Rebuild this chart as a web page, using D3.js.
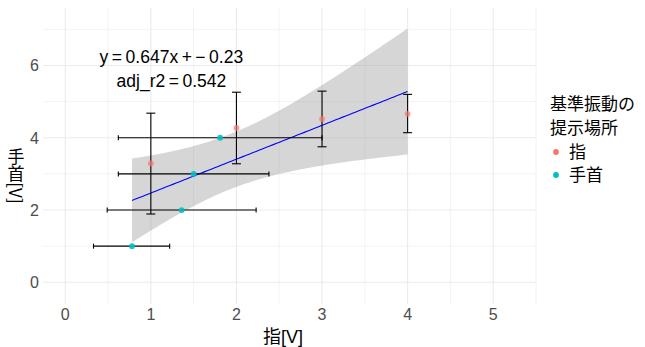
<!DOCTYPE html>
<html lang="ja">
  <head>
    <meta charset="UTF-8" />
    <title>指と手首の基準振動</title>
    <style>
      body {
        margin: 0;
        background: #fff;
      }
      svg {
        display: block;
        font-family: "Liberation Sans", "Noto Sans CJK JP", sans-serif;
      }
      .grid line {
        stroke: #ebebeb;
      }
      .tick-label {
        fill: #4d4d4d;
        font-size: 16px;
      }
      .cjk {
        font-family: "Noto Sans CJK JP", sans-serif;
      }
    </style>
  </head>
  <body>
    <svg id="chart"></svg>

    <script src="https://d3js.org/d3.v7.min.js"></script>
    <script>
      const width = 645;
      const height = 347;

      // 指 (finger) points: x fixed, y with vertical error
      const fingerX = [1, 2, 3, 4];
      const fingerY = [3.29, 4.27, 4.52, 4.66];
      const fingerYLow = [1.89, 3.28, 3.75, 4.14];
      const fingerYHigh = [4.68, 5.26, 5.29, 5.2];

      // 手首 (wrist) points: y fixed, x with horizontal error
      const wristX = [0.78, 1.36, 1.5, 1.81];
      const wristY = [1, 2, 3, 4];
      const wristXLow = [0.33, 0.49, 0.62, 0.62];
      const wristXHigh = [1.22, 2.23, 2.38, 3.0];

      const groupNames = ["指", "手首"];
      const groupColors = ["#F8766D", "#00BFC4"];

      const xTicks = [0, 1, 2, 3, 4, 5];
      const yTicks = [0, 2, 4, 6];
      const xMinor = [0.5, 1.5, 2.5, 3.5, 4.5, 5.5];
      const yMinor = [1, 3, 5, 7];

      const labelLines = ["y\u2009=\u20090.647x\u2009+\u2009\u2212\u20090.23", "adj_r2\u2009=\u20090.542"];
      const tQuantile = 2.4469; // t(0.975, df = 6)

      const panel = { left: 43, right: 536, top: 8, bottom: 304 };

      const svg = d3
        .select("#chart")
        .attr("width", width)
        .attr("height", height)
        .attr("viewBox", `0 0 ${width} ${height}`);

      const x = d3.scaleLinear().domain([-0.26, 5.5]).range([panel.left, panel.right]);
      const y = d3.scaleLinear().domain([-0.6, 7.59]).range([panel.bottom, panel.top]);

      // grid
      const grid = svg.append("g").attr("class", "grid");
      grid
        .selectAll(".vmin")
        .data(xMinor)
        .join("line")
        .attr("x1", (d) => x(d))
        .attr("x2", (d) => x(d))
        .attr("y1", panel.top)
        .attr("y2", panel.bottom)
        .attr("stroke-width", 0.6);
      grid
        .selectAll(".hmin")
        .data(yMinor)
        .join("line")
        .attr("class", "hmin")
        .attr("x1", panel.left)
        .attr("x2", panel.right)
        .attr("y1", (d) => y(d))
        .attr("y2", (d) => y(d))
        .attr("stroke-width", 0.6);
      grid
        .selectAll(".vmaj")
        .data(xTicks)
        .join("line")
        .attr("class", "vmaj")
        .attr("x1", (d) => x(d))
        .attr("x2", (d) => x(d))
        .attr("y1", panel.top)
        .attr("y2", panel.bottom)
        .attr("stroke-width", 1.1);
      grid
        .selectAll(".hmaj")
        .data(yTicks)
        .join("line")
        .attr("class", "hmaj")
        .attr("x1", panel.left)
        .attr("x2", panel.right)
        .attr("y1", (d) => y(d))
        .attr("y2", (d) => y(d))
        .attr("stroke-width", 1.1);

      // all points for the fit
      const points = fingerX
        .map((v, i) => ({ x: v, y: fingerY[i], g: 0 }))
        .concat(wristX.map((v, i) => ({ x: v, y: wristY[i], g: 1 })));

      // ordinary least squares + 95% confidence band
      const n = points.length;
      const mx = d3.mean(points, (d) => d.x);
      const my = d3.mean(points, (d) => d.y);
      const sxx = d3.sum(points, (d) => (d.x - mx) ** 2);
      const sxy = d3.sum(points, (d) => (d.x - mx) * (d.y - my));
      const slope = sxy / sxx;
      const intercept = my - slope * mx;
      const sse = d3.sum(points, (d) => (d.y - intercept - slope * d.x) ** 2);
      const s = Math.sqrt(sse / (n - 2));
      const [xmin, xmax] = d3.extent(points, (d) => d.x);
      const fit = d3.range(0, 81).map((i) => {
        const xv = xmin + ((xmax - xmin) * i) / 80;
        const fv = intercept + slope * xv;
        const hw = tQuantile * s * Math.sqrt(1 / n + (xv - mx) ** 2 / sxx);
        return { x: xv, y: fv, lo: fv - hw, hi: fv + hw };
      });

      svg
        .append("path")
        .datum(fit)
        .attr("fill", "#999999")
        .attr("fill-opacity", 0.4)
        .attr(
          "d",
          d3
            .area()
            .x((d) => x(d.x))
            .y0((d) => y(d.lo))
            .y1((d) => y(d.hi))
        );

      svg
        .append("path")
        .datum(fit)
        .attr("fill", "none")
        .attr("stroke", "#0000ff")
        .attr("stroke-width", 1.1)
        .attr(
          "d",
          d3
            .line()
            .x((d) => x(d.x))
            .y((d) => y(d.y))
        );

      // error bars
      const bars = svg.append("g").attr("stroke", "#000").attr("stroke-width", 1.1);
      fingerX.forEach((v, i) => {
        const cx = x(v);
        bars.append("line").attr("x1", cx).attr("x2", cx).attr("y1", y(fingerYLow[i])).attr("y2", y(fingerYHigh[i]));
        [fingerYLow[i], fingerYHigh[i]].forEach((e) => {
          bars.append("line").attr("x1", cx - 4.5).attr("x2", cx + 4.5).attr("y1", y(e)).attr("y2", y(e));
        });
      });
      wristY.forEach((v, i) => {
        const cy = y(v);
        bars.append("line").attr("x1", x(wristXLow[i])).attr("x2", x(wristXHigh[i])).attr("y1", cy).attr("y2", cy);
        [wristXLow[i], wristXHigh[i]].forEach((e) => {
          bars.append("line").attr("x1", x(e)).attr("x2", x(e)).attr("y1", cy - 2.5).attr("y2", cy + 2.5);
        });
      });

      // points
      svg
        .selectAll(".pt")
        .data(points)
        .join("circle")
        .attr("class", "pt")
        .attr("cx", (d) => x(d.x))
        .attr("cy", (d) => y(d.y))
        .attr("r", 2.9)
        .attr("fill", (d) => groupColors[d.g])
        .attr("fill-opacity", (d) => (d.g === 0 ? 0.7 : 0.9));

      // annotation
      svg
        .selectAll(".ann")
        .data(labelLines)
        .join("text")
        .attr("class", "ann")
        .attr("x", x(1.24))
        .attr("y", (d, i) => y(6.25 - i * 0.68))
        .attr("dy", "0.36em")
        .attr("text-anchor", "middle")
        .attr("font-size", 17.5)
        .attr("fill", "#000")
        .text((d) => d);

      // tick labels
      svg
        .selectAll(".xt")
        .data(xTicks)
        .join("text")
        .attr("class", "tick-label")
        .attr("x", (d) => x(d))
        .attr("y", panel.bottom + 16)
        .attr("text-anchor", "middle")
        .text((d) => d);
      svg
        .selectAll(".yt")
        .data(yTicks)
        .join("text")
        .attr("class", "tick-label")
        .attr("x", panel.left - 4)
        .attr("y", (d) => y(d))
        .attr("dy", "0.36em")
        .attr("text-anchor", "end")
        .text((d) => d);

      // axis titles
      svg
        .append("text")
        .attr("x", 283)
        .attr("y", 343)
        .attr("text-anchor", "middle")
        .attr("font-size", 18)
        .text("指[V]");
      svg
        .append("text")
        .attr("class", "cjk")
        .attr("x", 16)
        .attr("y", 176)
        .attr("writing-mode", "vertical-rl")
        .attr("text-anchor", "middle")
        .attr("font-size", 17)
        .text("手首[V]");

      // legend
      const legend = svg.append("g").attr("transform", "translate(550,0)");
      ["基準振動の", "提示場所"].forEach((t, i) => {
        legend
          .append("text")
          .attr("class", "cjk")
          .attr("y", 104 + i * 24)
          .attr("dy", "0.36em")
          .attr("font-size", 17)
          .text(t);
      });
      groupNames.forEach((g, i) => {
        const row = legend.append("g").attr("transform", `translate(0,${152 + i * 23})`);
        row.append("circle").attr("cx", 6).attr("r", 2.9).attr("fill", groupColors[i]);
        row
          .append("text")
          .attr("class", "cjk")
          .attr("x", 19)
          .attr("dy", "0.36em")
          .attr("font-size", 17)
          .text(g);
      });
    </script>
  </body>
</html>
